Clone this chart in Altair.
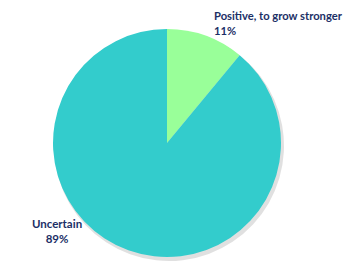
import altair as alt
import pandas as pd

categories = ["Positive, to grow stronger", "Uncertain"]
values = [11, 89]
pct_labels = ["11%", "89%"]
colors = ["#99FF99", "#33CCCC"]

df = pd.DataFrame({"category": categories, "value": values, "pct": pct_labels,
                   "order": list(range(len(categories)))})
df["label"] = df["category"] + "\n" + df["pct"]

cx, cy, r = 167, 143, 114

shadow = alt.Chart(df).mark_arc(radius=r + 1, x=cx + 2, y=cy + 3, color="#000000", opacity=0.12).encode(
    theta=alt.Theta("value:Q", stack=True), order=alt.Order("order:Q"))

pie = alt.Chart(df).mark_arc(radius=r, x=cx, y=cy).encode(
    theta=alt.Theta("value:Q", stack=True),
    color=alt.Color("category:N", scale=alt.Scale(domain=categories, range=colors), legend=None),
    order=alt.Order("order:Q"),
)

font = "Lato"
lab1 = alt.Chart(df[df["category"] == categories[0]]).mark_text(
    align="left", baseline="alphabetic", font=font, fontSize=11.2, fontWeight="bold",
    color="#1B2F66", lineBreak="\n", lineHeight=15).encode(
    text="label:N", x=alt.value(214), y=alt.value(20))

lab2 = alt.Chart(df[df["category"] == categories[1]]).mark_text(
    align="center", baseline="alphabetic", font=font, fontSize=11.5, fontWeight="bold",
    color="#1B2F66", lineBreak="\n", lineHeight=15).encode(
    text="label:N", x=alt.value(57), y=alt.value(228))

chart = alt.layer(shadow, pie, lab1, lab2).properties(
    width=356, height=262, padding=0, autosize=alt.AutoSizeParams(type="none"),
    background="white").configure_view(stroke=None)

chart.save("out.html", embed_options={"renderer": "svg", "actions": False})
